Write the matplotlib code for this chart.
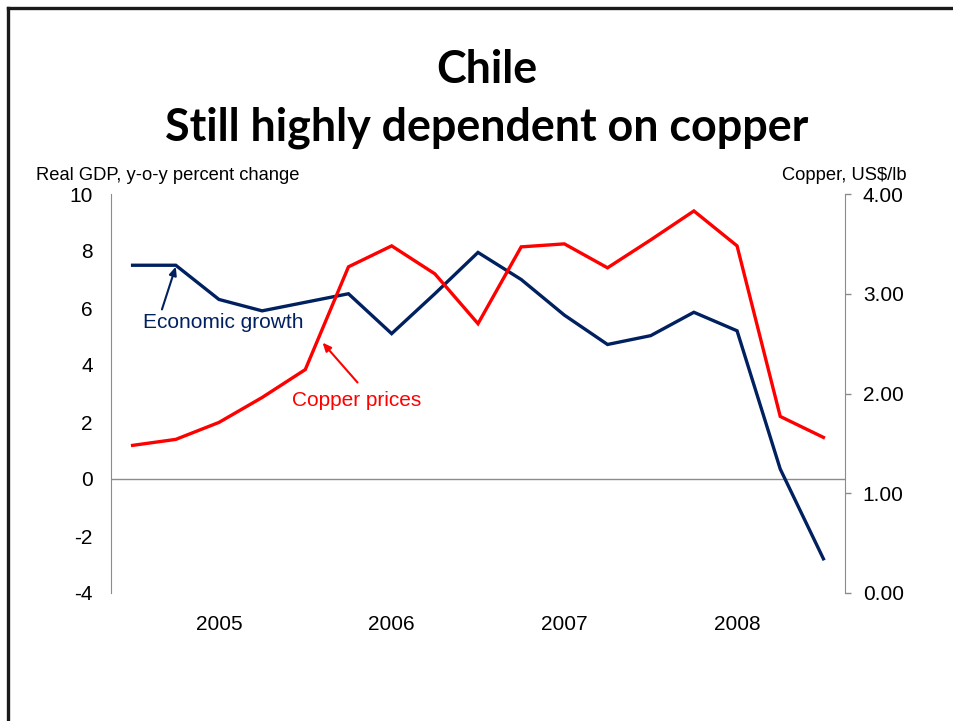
import matplotlib
matplotlib.use("Agg")
import matplotlib.pyplot as plt
import matplotlib.lines as mlines
import numpy as np

# Quarterly series
periods = ["2004Q3", "2004Q4",
           "2005Q1", "2005Q2", "2005Q3", "2005Q4",
           "2006Q1", "2006Q2", "2006Q3", "2006Q4",
           "2007Q1", "2007Q2", "2007Q3", "2007Q4",
           "2008Q1", "2008Q2", "2008Q3"]
gdp_growth = [7.5, 7.5, 6.3, 5.9, 6.2, 6.5, 5.1, 6.5, 7.95, 7.0,
              5.75, 4.72, 5.03, 5.85, 5.2, 0.35, -2.8]
copper_price = [1.48, 1.54, 1.71, 1.96, 2.24, 3.27, 3.48, 3.20, 2.70, 3.47,
                3.50, 3.26, 3.54, 3.83, 3.48, 1.77, 1.56]

NAVY = "#002060"
RED = "#ff0000"
GREY = "#8c8c8c"

W, H = 954, 721
fig = plt.figure(figsize=(W / 100, H / 100), dpi=100)
fig.patch.set_facecolor("white")

# slide frame (top and left edges only visible)
fx, fy = 8 / W, 1 - 8 / H
fig.add_artist(mlines.Line2D([fx, fx], [fy, 0], color="#1a1a1a", lw=2.4))
fig.add_artist(mlines.Line2D([fx, 1], [fy, fy], color="#1a1a1a", lw=2.4))

# title
fig.text(0.510, 1 - 70 / H, "Chile", ha="center", va="center",
         fontsize=32.3, fontweight="bold", family="Lato")
fig.text(0.510, 1 - 128 / H, "Still highly dependent on copper", ha="center",
         va="center", fontsize=32.3, fontweight="bold", family="Lato")

ax = fig.add_axes([111 / W, 1 - 593 / H, (845 - 111) / W, (593 - 194) / H])
ax2 = ax.twinx()

x = np.arange(len(periods))
ax.plot(x, gdp_growth, color=NAVY, lw=2.4, solid_joinstyle="miter", zorder=3)
ax2.plot(x, copper_price, color=RED, lw=2.4, solid_joinstyle="miter", zorder=3)

ax.set_xlim(-0.5, len(periods) - 0.5)
ax.set_ylim(-4, 10)
ax2.set_ylim(0, 4)
ax.axhline(0, color=GREY, lw=1)

font = "Liberation Sans"
ax.set_yticks(np.arange(-4, 11, 2))
ax.set_yticklabels([f"{v:g}" for v in np.arange(-4, 11, 2)], family=font, fontsize=15)
ax.tick_params(axis="y", length=0, pad=13)
ax2.set_yticks(np.arange(0, 4.01, 1))
ax2.set_yticklabels([f"{v:.2f}" for v in np.arange(0, 4.01, 1)], family=font, fontsize=15)
ax2.tick_params(axis="y", length=4.3, width=1, color=GREY, pad=8.5)

yr_pos = [i for i, p in enumerate(periods) if p.endswith("Q1")]
ax.set_xticks(yr_pos)
ax.set_xticklabels([periods[i][:4] for i in yr_pos], family=font, fontsize=15)
ax.tick_params(axis="x", length=0, pad=16)

for a in (ax, ax2):
    for side in ("top", "bottom", "left", "right"):
        a.spines[side].set_visible(False)
ax.spines["left"].set_visible(True)
ax.spines["left"].set_color(GREY)
ax2.spines["right"].set_visible(True)
ax2.spines["right"].set_color(GREY)

fig.text(36 / W, 1 - 175 / H, "Real GDP, y-o-y percent change", ha="left",
         va="center", family=font, fontsize=13.2)
fig.text(907 / W, 1 - 176 / H, "Copper, US$/lb", ha="right",
         va="center", family=font, fontsize=13.2)

# callouts
ax.annotate("", xy=(1, 7.45), xytext=(0.68, 5.95),
            arrowprops=dict(arrowstyle="-|>,head_length=0.5,head_width=0.22",
                            color=NAVY, lw=1.5, shrinkA=0, shrinkB=0))
ax.text(0.25, 5.5, "Economic growth", color=NAVY, family=font, fontsize=15,
        ha="left", va="center")
ax2.annotate("", xy=(4.4, 2.51), xytext=(5.21, 2.11),
             arrowprops=dict(arrowstyle="-|>,head_length=0.5,head_width=0.22",
                             color=RED, lw=1.5, shrinkA=0, shrinkB=0))
ax2.text(3.7, 1.93, "Copper prices", color=RED, family=font, fontsize=15,
         ha="left", va="center")

fig.savefig("out.png", dpi=100)
